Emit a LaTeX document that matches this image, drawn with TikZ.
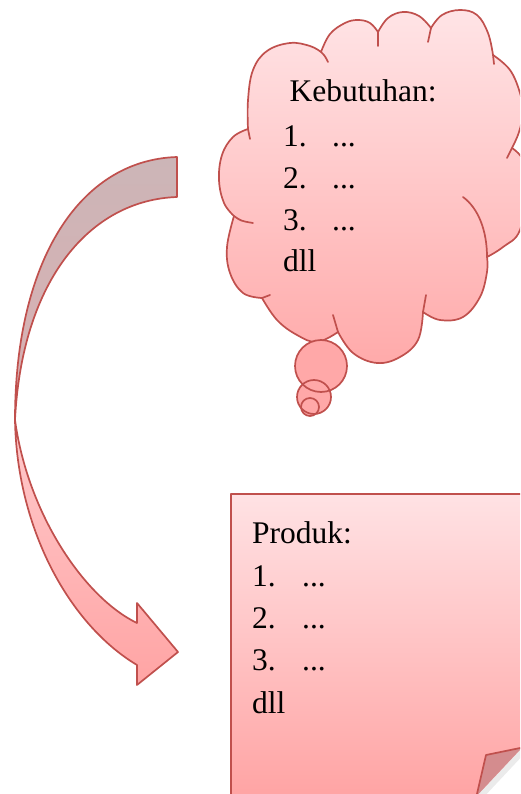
\documentclass[tikz,border=0pt]{standalone}
\usepackage{fontspec}
\setmainfont{Liberation Serif}
\definecolor{shapeline}{RGB}{192,80,77}
\definecolor{cloudtop}{RGB}{255,228,230}
\definecolor{cloudbot}{RGB}{255,170,170}
\definecolor{bubblefill}{RGB}{255,168,168}
\definecolor{recttop}{RGB}{255,226,228}
\definecolor{rectbot}{RGB}{255,164,164}
\definecolor{flapfill}{RGB}{212,140,142}
\definecolor{backtop}{RGB}{204,181,183}
\definecolor{backbot}{RGB}{218,176,178}
\definecolor{fronttop}{RGB}{255,202,204}
\definecolor{frontbot}{RGB}{255,164,164}
\begin{document}
\begin{tikzpicture}[x=1pt,y=-1pt,
  edge/.style={draw=shapeline, line width=1.7pt, line join=round, line cap=round},
  txt/.style={anchor=base west, inner sep=0pt, font=\fontsize{31.5}{38}\selectfont},
  lobe/.style={smooth, tension=0.65}]
\useasboundingbox (0,0) rectangle (520,794);
\begin{scope}
\clip (0,0) rectangle (520,794);

% thought cloud outline, one smooth plot per lobe
\shadedraw[edge, top color=cloudtop, bottom color=cloudbot]
  plot[lobe] coordinates {(248,129) (248,100) (253,70) (267,51) (290,43) (310,46) (321,52)}
  -- plot[lobe] coordinates {(321,52) (330,34) (345,23) (358,20) (370,23) (378,32)}
  -- plot[lobe] coordinates {(378,32) (388,18) (403,12) (419,16) (431,28)}
  -- plot[lobe] coordinates {(431,28) (442,15) (460,10) (477,15) (488,33) (493,55)}
  -- plot[lobe] coordinates {(493,55) (510,70) (520,93) (523,112) (519,132) (512,148)}
  -- plot[lobe] coordinates {(512,148) (523,160) (527,185) (520,230) (503,247) (487,257)}
  -- plot[lobe] coordinates {(487,257) (487,272) (480,297) (463,317) (440,320) (423,312)}
  -- plot[lobe] coordinates {(423,312) (418,340) (400,357) (377,363) (353,353) (338,332)}
  -- plot[lobe] coordinates {(338,332) (317,342) (297,335) (277,320) (262,298)}
  -- plot[lobe] coordinates {(262,298) (243,293) (230,273) (227,247) (234,216)}
  -- plot[lobe] coordinates {(234,216) (224,203) (219,180) (222,155) (233,137) (248,129)}
  -- cycle;

% inner creases of the cloud
\draw[edge] (248,129) .. controls (249,134) .. (250,139);
\draw[edge] (234,216) .. controls (241,221) .. (253,223);
\draw[edge] (262,298) .. controls (266,297) .. (270,295);
\draw[edge] (338,332) .. controls (335,323) .. (333,315);
\draw[edge] (423,312) .. controls (425,304) .. (426,295);
\draw[edge] (487,257) .. controls (487,230) and (478,208) .. (463,197);
\draw[edge] (493,55) .. controls (494,59) .. (494,64);
\draw[edge] (431,28) .. controls (429,35) .. (428,42);
\draw[edge] (378,32) .. controls (378,39) .. (378,46);
\draw[edge] (321,52) .. controls (325,56) .. (328,62);
\draw[edge] (512,148) .. controls (510,153) .. (507,158);

% thought bubbles
\fill[bubblefill] (321,366) circle[radius=26] (314,397) circle[radius=17] (310,407) circle[radius=9];
\draw[edge] (321,366) circle[radius=26];
\draw[edge] (314,397) circle[radius=17];
\draw[edge] (310,407) circle[radius=9];

% curved arrow: back face
\shadedraw[edge, top color=backtop, bottom color=backbot]
  (177,157) .. controls (80,160) and (15,260) .. (15,420)
  .. controls (22,280) and (90,200) .. (177,197) -- cycle;
% curved arrow: front face with head
\shadedraw[edge, top color=fronttop, bottom color=frontbot]
  (15,420) .. controls (17,530) and (70,625) .. (137,665)
  -- (137,685) -- (178,652) -- (137,603) -- (137,623)
  .. controls (85,598) and (28,515) .. (15,420) -- cycle;

% note with folded corner
\shade[top color=recttop, bottom color=rectbot]
  (231,494) -- (522,494) -- (522,747.6) -- (476.5,796) -- (231,796) -- cycle;
\draw[edge] (231,800) -- (231,494) -- (525,494);
\fill[black, opacity=0.08] (522,747.6) -- (476.5,796) -- (481,800) -- (526,752) -- cycle;
\fill[flapfill] (476.5,796) -- (486,755) -- (522,747.6) -- cycle;
\draw[edge] (476.5,796) -- (486,755) -- (522,747.6);
\end{scope}

% cloud text
\node[txt] (k0) at (289.5,101.7) {Kebutuhan:};
\node[txt] (k1) at (283,146.7) {\makebox[49pt][l]{1.}...};
\node[txt] (k2) at (283,188.3) {\makebox[49pt][l]{2.}...};
\node[txt] (k3) at (283,230) {\makebox[49pt][l]{3.}...};
\node[txt] (k4) at (283,271.7) {dll};

% note text
\node[txt] (p0) at (252,543) {Produk:};
\node[txt] (p1) at (252,586.7) {\makebox[50pt][l]{1.}...};
\node[txt] (p2) at (252,628.3) {\makebox[50pt][l]{2.}...};
\node[txt] (p3) at (252,670) {\makebox[50pt][l]{3.}...};
\node[txt] (p4) at (252,713.3) {dll};
\end{tikzpicture}
\end{document}
